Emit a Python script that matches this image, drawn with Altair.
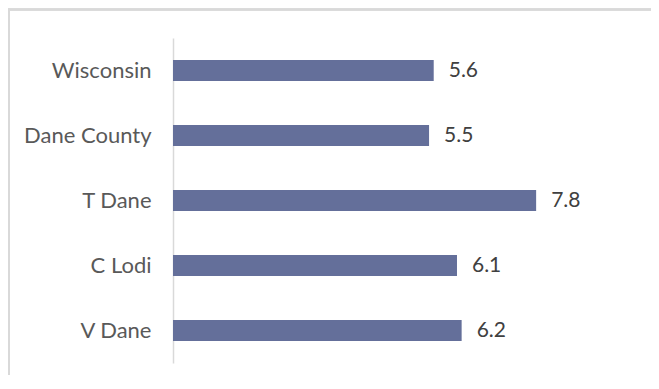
import altair as alt
import pandas as pd

categories = ["Wisconsin", "Dane County", "T Dane", "C Lodi", "V Dane"]
values = [5.6, 5.5, 7.8, 6.1, 6.2]

df = pd.DataFrame({"place": categories, "rooms": values})

BAR = "#646F9A"
FRAME = "#D9D9D9"

y_enc = alt.Y(
    "place:N",
    sort=categories,
    title=None,
    scale=alt.Scale(paddingInner=0.677, paddingOuter=0.3385),
    axis=alt.Axis(
        ticks=False,
        domainColor=FRAME,
        domainWidth=1.5,
        labelFont="Lato",
        labelFontSize=22,
        labelFontWeight="normal",
        labelColor="#595959",
        labelPadding=22,
    ),
)
x_enc = alt.X(
    "rooms:Q",
    title=None,
    scale=alt.Scale(domain=[0, 9], nice=False),
    axis=None,
)

bars = alt.Chart(df).mark_bar(color=BAR).encode(x=x_enc, y=y_enc)
labels = alt.Chart(df).mark_text(
    align="left", baseline="middle", dx=15, font="Lato", fontSize=21,
    fontWeight="normal", color="#404040"
).encode(x=x_enc, y=alt.Y("place:N", sort=categories), text=alt.Text("rooms:Q", format=".1f"))

frame_top = alt.Chart(df).mark_rule(color=FRAME, strokeWidth=2).encode(
    x=alt.value(-166), x2=alt.value(480), y=alt.value(-28.5)
)
frame_left = alt.Chart(df).mark_rule(color=FRAME, strokeWidth=2).encode(
    x=alt.value(-164), y=alt.value(-29.5), y2=alt.value(345)
)

chart = (
    alt.layer(frame_top, frame_left, bars, labels)
    .properties(
        width=419,
        height=325,
        background="white",
        autosize=alt.AutoSizeParams(type="none"),
        padding={"left": 165, "top": 30, "right": 59, "bottom": 12},
    )
    .configure_view(strokeWidth=0)
)

chart.save("out.html", embed_options={"renderer": "svg", "actions": False})
